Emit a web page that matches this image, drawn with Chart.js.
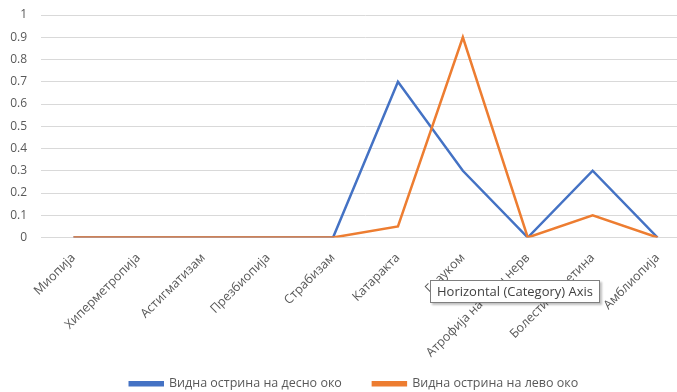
<!DOCTYPE html>
<html>
<head>
<meta charset="utf-8">
<script src="https://cdn.jsdelivr.net/npm/chart.js@4/dist/chart.umd.min.js"></script>
<style>
    html, body { margin: 0; padding: 0; background: #fff; overflow: hidden; }
    #wrap { position: relative; width: 690px; height: 392px; }
    #tip {
        position: absolute; left: 430px; top: 280px; padding: 1px 6px 2px 6px;
        background: #fff; border: 1px solid #7f7f7f; box-shadow: 2px 2px 2px rgba(0,0,0,0.25);
        font: 13px "Open Sans", sans-serif; color: #404040; white-space: nowrap;
    }
</style>
</head>
<body>
<div id="wrap">
    <canvas id="chart" width="690" height="392"></canvas>
    <div id="tip">Horizontal (Category) Axis</div>
</div>
<script>
var categories = ["Миопија", "Хиперметропија", "Астигматизам", "Презбиопија", "Страбизам",
    "Катаракта", "Глауком", "Атрофија на очен нерв", "Болести на ретина", "Амблиопија"];
var rightEye = [0, 0, 0, 0, 0, 0.7, 0.3, 0, 0.3, 0];
var leftEye = [0, 0, 0, 0, 0, 0.05, 0.9, 0, 0.1, 0];
var seriesNames = ["Видна острина на десно око", "Видна острина на лево око"];

Chart.defaults.font.family = "'Open Sans', sans-serif";
Chart.defaults.color = "#595959";

// nudge the legend a little to the right, like the original
var legendShift = {
    id: 'legendShift',
    afterLayout: function(chart){
        chart.legend.left += 9;
        chart.legend.right += 9;
    }
};

var ctx = document.getElementById("chart").getContext('2d');
var myLineChart = new Chart(ctx, {
    type: 'line',
    data: {
        labels: categories,
        datasets: [
            {
                label: seriesNames[0],
                data: rightEye,
                borderColor: "#4472C4",
                backgroundColor: "#4472C4",
                borderWidth: 2.5,
                pointRadius: 0,
                tension: 0,
                order: 1
            },
            {
                label: seriesNames[1],
                data: leftEye,
                borderColor: "#ED7D31",
                backgroundColor: "#ED7D31",
                borderWidth: 2.5,
                pointRadius: 0,
                tension: 0,
                order: 0
            }
        ]
    },
    plugins: [legendShift],
    options: {
        responsive: false,
        animation: false,
        layout: { padding: { top: 15, left: 0, right: 0, bottom: -8 } },
        plugins: {
            tooltip: { enabled: false },
            legend: {
                position: 'bottom',
                labels: {
                    boxWidth: 33, boxHeight: 3, padding: 31, font: { size: 12.5 },
                    sort: function(a, b){ return a.datasetIndex - b.datasetIndex; }
                }
            }
        },
        scales: {
            x: {
                offset: true,
                grid: { display: false },
                border: { display: false },
                ticks: { minRotation: 45, maxRotation: 45, autoSkip: false, font: { size: 12.5 }, padding: 5 },
                afterFit: function(scale){
                    scale.height = 109;
                    // long rotated labels run past the axis box, as in the original
                    scale._computeLabelArea = function(){ return undefined; };
                }
            },
            y: {
                min: 0, max: 1,
                grid: { color: "#d9d9d9", drawTicks: false },
                border: { display: false },
                ticks: {
                    stepSize: 0.1, padding: 14, font: { size: 12 },
                    callback: function(v){ return String(Math.round(v * 10) / 10); }
                },
                afterFit: function(scale){
                    scale.width = 41;
                    scale.paddingTop = 0;
                    scale.paddingBottom = 0;
                }
            }
        }
    }
});
</script>
</body>
</html>
